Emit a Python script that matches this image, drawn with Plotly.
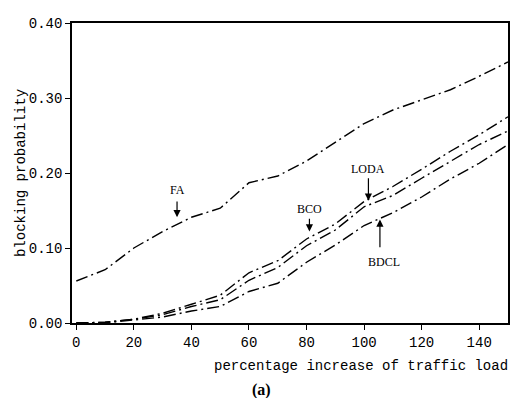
import plotly.graph_objects as go

load_pct = [0, 10, 20, 30, 40, 50, 60, 70, 80, 90, 100, 110, 120, 130, 140, 150]
fa = [0.056, 0.071, 0.100, 0.122, 0.141, 0.153, 0.187, 0.196, 0.216, 0.241, 0.266, 0.284, 0.297, 0.311, 0.329, 0.348]
bco = [0.000, 0.001, 0.005, 0.013, 0.025, 0.037, 0.067, 0.083, 0.112, 0.132, 0.162, 0.182, 0.205, 0.229, 0.251, 0.275]
loda = [0.000, 0.001, 0.005, 0.011, 0.022, 0.031, 0.057, 0.074, 0.103, 0.124, 0.155, 0.170, 0.193, 0.216, 0.238, 0.256]
bdcl = [0.000, 0.000, 0.004, 0.008, 0.016, 0.022, 0.042, 0.053, 0.081, 0.104, 0.130, 0.147, 0.168, 0.192, 0.213, 0.238]

x_ticks = [0, 20, 40, 60, 80, 100, 120, 140]
y_ticks = [0.0, 0.1, 0.2, 0.3, 0.4]
y_tick_text = ["0.00", "0.10", "0.20", "0.30", "0.40"]

# label: (text, label_x, label_y, arrow_x, arrow_tail_y, arrow_head_y)
labels = [
    ("FA", 35, 0.178, 35, 0.164, 0.141),
    ("BCO", 81, 0.152, 81, 0.141, 0.122),
    ("LODA", 101.5, 0.206, 101.5, 0.195, 0.163),
    ("BDCL", 107, 0.082, 105.5, 0.099, 0.138),
]

mono = "Liberation Mono"
serif = "Liberation Serif"
dash = "12px,4px,2px,4px"

fig = go.Figure()
for name, ys in [("FA", fa), ("BCO", bco), ("LODA", loda), ("BDCL", bdcl)]:
    fig.add_trace(go.Scatter(x=load_pct, y=ys, mode="lines", name=name,
                             line=dict(color="black", width=1.4, dash=dash),
                             showlegend=False))

for text, lx, ly, axx, ty, hy in labels:
    fig.add_annotation(x=lx, y=ly, text=text, showarrow=False,
                       font=dict(family=serif, size=12, color="black"),
                       xref="x", yref="y")
    fig.add_annotation(x=axx, y=hy, ax=axx, ay=ty,
                       xref="x", yref="y", axref="x", ayref="y",
                       text="", showarrow=True, arrowhead=2, arrowsize=1.2,
                       arrowwidth=1.2, arrowcolor="black")

fig.add_annotation(text="percentage increase of traffic load", xref="paper", yref="paper",
                   x=1.004, y=-0.143, xanchor="right", yanchor="middle", showarrow=False,
                   font=dict(family=mono, size=14, color="black"))
fig.add_annotation(text="<b>(a)</b>", xref="paper", yref="paper",
                   x=0.434, y=-0.222, xanchor="center", yanchor="middle", showarrow=False,
                   font=dict(family=serif, size=16, color="black"))

fig.update_layout(
    width=510, height=390,
    margin=dict(l=64, r=8, t=8, b=75),
    paper_bgcolor="white", plot_bgcolor="white",
    xaxis=dict(range=[-1.5, 150], tickvals=x_ticks, showgrid=False, zeroline=False,
               showline=True, linecolor="black", linewidth=1.6, mirror=True,
               ticks="outside", ticklen=5, tickcolor="black",
               tickfont=dict(family=mono, size=14, color="black")),
    yaxis=dict(range=[0, 0.4], tickvals=y_ticks, ticktext=y_tick_text, showgrid=False, zeroline=False,
               showline=True, linecolor="black", linewidth=1.6, mirror=True,
               ticks="outside", ticklen=5, tickcolor="black",
               tickfont=dict(family=mono, size=14, color="black"),
               title=dict(text="blocking probability", font=dict(family=mono, size=14, color="black"),
                          standoff=0)),
)

fig.write_html("out.html")
